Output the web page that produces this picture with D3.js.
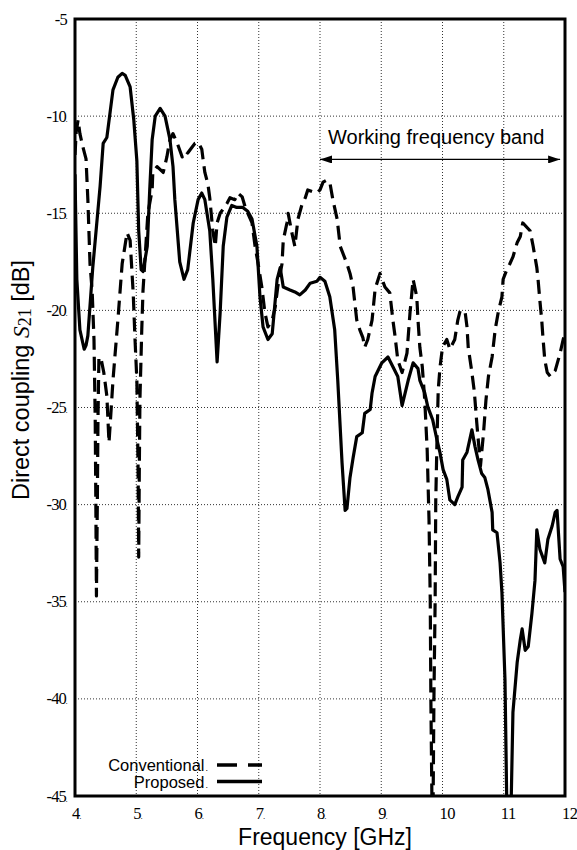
<!DOCTYPE html>
<html>
<head>
<meta charset="utf-8">
<script src="https://cdn.jsdelivr.net/npm/d3@7"></script>
<style>
  body { margin: 0; background: #fff; }
  .serif { font-family: "Liberation Serif", "Times New Roman", serif; }
  .sans { font-family: "Liberation Sans", Arial, sans-serif; }
</style>
</head>
<body>
<div id="chart"></div>
<script>
// Conventional antenna (dashed) - frequency [GHz] and S21 [dB]
var convFreq = [4.00, 4.02, 4.05, 4.08, 4.13, 4.18, 4.21, 4.245, 4.28, 4.31, 4.33, 4.34, 4.35, 4.365, 4.375, 4.39,
  4.42, 4.47, 4.52, 4.555, 4.59, 4.62, 4.70, 4.77, 4.85, 4.90, 4.95, 4.98, 5.01, 5.03, 5.04, 5.05, 5.06, 5.09, 5.11,
  5.19, 5.26, 5.27, 5.34, 5.44, 5.50, 5.55, 5.60, 5.67, 5.75, 5.80, 5.84, 5.91, 5.96, 6.01, 6.07, 6.09, 6.12, 6.17,
  6.20, 6.25, 6.29, 6.32, 6.37, 6.48, 6.53, 6.61, 6.66, 6.73, 6.78, 6.82, 6.89, 6.94, 6.99, 7.05, 7.10, 7.15, 7.22,
  7.27, 7.31, 7.38, 7.40, 7.46, 7.48, 7.54, 7.59, 7.64, 7.71, 7.76, 7.80, 7.89, 7.95, 8.00, 8.05, 8.11, 8.16, 8.21,
  8.28, 8.33, 8.44, 8.49, 8.54, 8.60, 8.65, 8.70, 8.73, 8.78, 8.85, 8.90, 8.98, 9.06, 9.14, 9.19, 9.22, 9.27, 9.34,
  9.42, 9.47, 9.52, 9.58, 9.60, 9.63, 9.67, 9.71, 9.75, 9.78, 9.80, 9.81, 9.83, 9.845, 9.86, 9.88, 9.89, 9.91, 9.93,
  9.96, 10.00, 10.07, 10.12, 10.20, 10.25, 10.29, 10.37, 10.40, 10.42, 10.48, 10.52, 10.56, 10.62, 10.67, 10.71,
  10.75, 10.81, 10.86, 10.91, 10.97, 10.99, 11.05, 11.10, 11.15, 11.22, 11.27, 11.31, 11.43, 11.48, 11.54, 11.56,
  11.59, 11.62, 11.64, 11.67, 11.71, 11.76, 11.84, 11.92, 11.97, 12.00];
var convS21 = [-12.0, -10.8, -10.2, -10.9, -11.6, -12.2, -14.3, -17.6, -19.0, -21.5, -25.6, -29.8, -34.7, -29.8, -25.6, -22.5,
  -22.4, -23.2, -24.4, -26.8, -25.1, -23.6, -20.5, -17.6, -16.0, -16.4, -19.1, -21.5, -23.6, -28.2, -32.7, -28.2, -24.6, -21.0, -19.0,
  -15.0, -13.8, -12.9, -12.6, -12.9, -12.1, -11.2, -10.9, -11.4, -12.1, -11.8, -11.9, -11.6, -11.4, -11.35, -11.7, -12.2, -12.9, -13.5,
  -14.2, -15.9, -16.7, -15.5, -15.0, -14.5, -14.2, -14.3, -13.96, -14.16, -14.7, -15.0, -15.5, -16.7, -17.6, -18.8, -20.1, -20.85, -20.5,
  -19.8, -18.8, -17.6, -16.4, -15.5, -15.0, -16.0, -16.7, -15.3, -14.5, -14.2, -13.8, -13.9, -13.96, -13.8, -13.4, -13.3, -13.4, -14.3,
  -15.3, -16.7, -17.6, -18.1, -18.8, -20.5, -21.0, -21.4, -21.9, -21.5, -20.5, -18.9, -18.1, -18.8, -19.1, -20.5, -21.2, -22.55, -23.2,
  -22.2, -20.1, -18.4, -19.3, -20.5, -21.9, -22.9, -24.6, -27.2, -30.8, -34.9, -40.0, -46.0, -46.0, -40.0, -34.9, -29.8, -26.7, -24.1,
  -22.9, -21.9, -21.5, -22.0, -21.5, -20.5, -20.0, -20.1, -20.85, -21.9, -23.2, -24.2, -25.8, -28.0, -26.3, -24.6,
  -23.4, -22.4, -21.0, -20.1, -19.3, -18.4, -17.9, -17.6, -17.25, -16.5, -16.2, -15.5, -15.9, -16.7, -17.8, -18.4,
  -19.5, -20.5, -21.4, -22.55, -23.2, -23.4, -23.1, -22.2, -21.5, -21.2];

// Proposed antenna (solid)
var propFreq = [4.00, 4.03, 4.08, 4.15, 4.18, 4.21, 4.29, 4.41, 4.46, 4.52, 4.62, 4.70, 4.77, 4.82, 4.90, 4.96, 5.01,
  5.04, 5.08, 5.11, 5.18, 5.22, 5.26, 5.31, 5.39, 5.47, 5.55, 5.60, 5.63, 5.67, 5.71, 5.78, 5.84, 5.93, 6.01, 6.07,
  6.12, 6.20, 6.25, 6.32, 6.37, 6.42, 6.48, 6.56, 6.64, 6.74, 6.82, 6.89, 6.97, 7.02, 7.07, 7.15, 7.22, 7.30, 7.35,
  7.40, 7.51, 7.59, 7.67, 7.76, 7.84, 7.95, 8.00, 8.08, 8.16, 8.24, 8.29, 8.36, 8.41, 8.44, 8.49, 8.54, 8.60, 8.69,
  8.73, 8.82, 8.85, 8.90, 9.01, 9.11, 9.19, 9.27, 9.34, 9.44, 9.52, 9.60, 9.63, 9.71, 9.76, 9.84, 9.91, 9.96, 10.01,
  10.07, 10.12, 10.20, 10.25, 10.32, 10.33, 10.40, 10.48, 10.53, 10.58, 10.64, 10.69, 10.74, 10.81, 10.82, 10.89,
  10.94, 10.97, 11.02, 11.05, 11.12, 11.15, 11.22, 11.27, 11.30, 11.35, 11.40, 11.46, 11.51, 11.54, 11.59, 11.67,
  11.72, 11.79, 11.84, 11.87, 11.92, 11.97, 12.00];
var propS21 = [-13.0, -18.4, -21.0, -22.0, -21.8, -21.3, -17.8, -13.6, -11.4, -11.1, -8.65, -8.0, -7.8, -7.9, -8.5, -10.2, -12.3,
  -15.9, -17.9, -18.0, -16.7, -13.8, -11.2, -10.0, -9.6, -10.0, -11.2, -12.6, -14.3, -15.9, -17.5, -18.4, -17.9, -15.5, -14.3, -13.96,
  -14.3, -15.9, -18.4, -22.65, -20.1, -16.7, -15.2, -14.6, -14.7, -14.7, -14.9, -15.3, -16.7, -19.3, -20.85, -21.5, -21.2, -18.4, -17.8,
  -18.8, -18.95, -19.05, -19.2, -18.95, -18.6, -18.5, -18.3, -18.5, -19.3, -21.0, -23.6, -27.85, -30.3, -30.2, -28.6, -27.6, -26.5, -26.3,
  -25.3, -25.1, -24.25, -23.4, -22.7, -22.4, -22.9, -23.4, -24.9, -23.6, -22.7, -23.0, -23.6, -24.25, -24.97, -25.64, -26.67, -27.34, -28.2,
  -28.7, -29.76, -30.0, -29.6, -29.1, -27.7, -27.3, -26.15, -27.0, -27.7, -28.4, -28.6, -29.2, -30.4, -31.3, -31.45,
  -33.0, -34.5, -39.0, -45.5, -45.5, -40.7, -38.1, -36.96, -36.4, -37.5, -37.3, -35.6, -33.9, -31.3, -32.3, -33.0,
  -31.8, -31.1, -30.4, -30.3, -32.8, -33.2, -34.5];

var xTicks = [4, 5, 6, 7, 8, 9, 10, 11, 12];
var xTickLabels = ["4.", "5.", "6.", "7.", "8.", "9.", "10", "11", "12"];
var yTicks = [-5, -10, -15, -20, -25, -30, -35, -40, -45];
var yTickLabels = ["-5", "-10.", "-15.", "-20.", "-25.", "-30.", "-35.", "-40.", "-45."];

var bandStart = 8, bandEnd = 11.92, bandLevel = -12.23;
var bandLabel = "Working frequency band";
var legendNames = ["Conventional", "Proposed"];

// dimensions
var margin = { top: 19, right: 12, bottom: 54, left: 75 },
  width = 577 - margin.left - margin.right,
  height = 850 - margin.top - margin.bottom;

var svg = d3.select("#chart")
  .append("svg")
  .attr("width", 577)
  .attr("height", 850)
  .append("g")
  .attr("transform", "translate(" + margin.left + "," + margin.top + ")");

var x = d3.scaleLinear().domain([4, 12]).range([0, width]);
var y = d3.scaleLinear().domain([-45, -5]).range([height, 0]);

// dotted grid
svg.append("g")
  .selectAll("line")
  .data(xTicks.slice(1, -1))
  .enter()
  .append("line")
  .attr("x1", d => x(d)).attr("x2", d => x(d))
  .attr("y1", 0).attr("y2", height)
  .attr("stroke", "#333").attr("stroke-width", 1)
  .attr("stroke-dasharray", "1,2");

svg.append("g")
  .selectAll("line")
  .data(yTicks.slice(1, -1))
  .enter()
  .append("line")
  .attr("y1", d => y(d)).attr("y2", d => y(d))
  .attr("x1", 0).attr("x2", width)
  .attr("stroke", "#333").attr("stroke-width", 1)
  .attr("stroke-dasharray", "1,2");

// tick labels (serif, with the little trailing dot of the original)
function addLabel(sel, str) {
  if (str.slice(-1) == ".") {
    sel.text(str.slice(0, -1));
    sel.append("tspan").attr("font-size", 9).attr("dx", -0.5).text(".");
  } else {
    sel.text(str);
  }
}

svg.append("g")
  .selectAll("text")
  .data(yTicks)
  .enter()
  .append("text")
  .attr("class", "serif")
  .attr("x", -8)
  .attr("y", d => y(d) + 5.5)
  .attr("text-anchor", "end")
  .attr("font-size", 16.5)
  .attr("letter-spacing", -0.8)
  .each(function (d, i) { addLabel(d3.select(this), yTickLabels[i]); });

svg.append("g")
  .selectAll("text")
  .data(xTicks)
  .enter()
  .append("text")
  .attr("class", "serif")
  .attr("x", d => x(d) - 3)
  .attr("y", height + 23)
  .attr("text-anchor", "start")
  .attr("font-size", 16.5)
  .attr("letter-spacing", -0.5)
  .each(function (d, i) { addLabel(d3.select(this), xTickLabels[i]); });

// curves
svg.append("clipPath").attr("id", "clip")
  .append("rect").attr("width", width).attr("height", height);

var line = d3.line()
  .x(d => x(d[0]))
  .y(d => y(d[1]));

svg.append("path")
  .datum(d3.zip(convFreq, convS21))
  .attr("clip-path", "url(#clip)")
  .attr("fill", "none")
  .attr("stroke", "#000")
  .attr("stroke-width", 3.2)
  .attr("stroke-dasharray", "14,7")
  .attr("stroke-linejoin", "round")
  .attr("d", line);

svg.append("path")
  .datum(d3.zip(propFreq, propS21))
  .attr("clip-path", "url(#clip)")
  .attr("fill", "none")
  .attr("stroke", "#000")
  .attr("stroke-width", 3.2)
  .attr("stroke-linejoin", "round")
  .attr("d", line);

// frame
svg.append("rect")
  .attr("width", width).attr("height", height)
  .attr("fill", "none").attr("stroke", "#000").attr("stroke-width", 3);

// working band arrow
var defs = svg.append("defs");
defs.append("marker").attr("id", "head")
  .attr("viewBox", "0 0 12 8").attr("refX", 12).attr("refY", 4)
  .attr("markerWidth", 12).attr("markerHeight", 8)
  .attr("markerUnits", "userSpaceOnUse")
  .attr("orient", "auto-start-reverse")
  .append("path").attr("d", "M0,0 L12,4 L0,8 Z").attr("fill", "#000");

svg.append("line")
  .attr("x1", x(bandStart)).attr("x2", x(bandEnd))
  .attr("y1", y(bandLevel)).attr("y2", y(bandLevel))
  .attr("stroke", "#000").attr("stroke-width", 1.3)
  .attr("marker-start", "url(#head)")
  .attr("marker-end", "url(#head)");

svg.append("text")
  .attr("class", "sans")
  .attr("x", x(bandStart) + 8)
  .attr("y", y(bandLevel) - 15.5)
  .attr("font-size", 20)
  .text(bandLabel);

// legend
var legend = svg.append("g").attr("transform", "translate(0," + (height - 31) + ")");
legendNames.forEach(function (name, i) {
  var t = legend.append("text")
    .attr("class", "sans")
    .attr("x", 133)
    .attr("y", i * 16.5 + 6)
    .attr("text-anchor", "end")
    .attr("font-size", 16.5);
  t.text(name);
  t.append("tspan").attr("font-size", 9).attr("dx", 1).text(".");
  legend.append("line")
    .attr("x1", 142).attr("x2", 187)
    .attr("y1", i * 16.5).attr("y2", i * 16.5)
    .attr("stroke", "#000").attr("stroke-width", 3.3)
    .attr("stroke-dasharray", i == 0 ? "20,11" : null);
});

// axis titles
svg.append("text")
  .attr("class", "sans")
  .attr("x", 250)
  .attr("y", height + 49)
  .attr("text-anchor", "middle")
  .attr("font-size", 23)
  .text("Frequency [GHz]");

var yt = svg.append("text")
  .attr("class", "sans")
  .attr("transform", "translate(-46," + (361) + ") rotate(-90)")
  .attr("text-anchor", "middle")
  .attr("font-size", 23.5);
yt.append("tspan").text("Direct coupling  ");
yt.append("tspan").attr("class", "serif")
  .attr("font-style", "italic").text("S");
yt.append("tspan").attr("class", "serif")
  .attr("font-size", 18).attr("dy", 2).text("21");
yt.append("tspan").attr("dy", -2).text(" [dB]");
</script>
</body>
</html>
